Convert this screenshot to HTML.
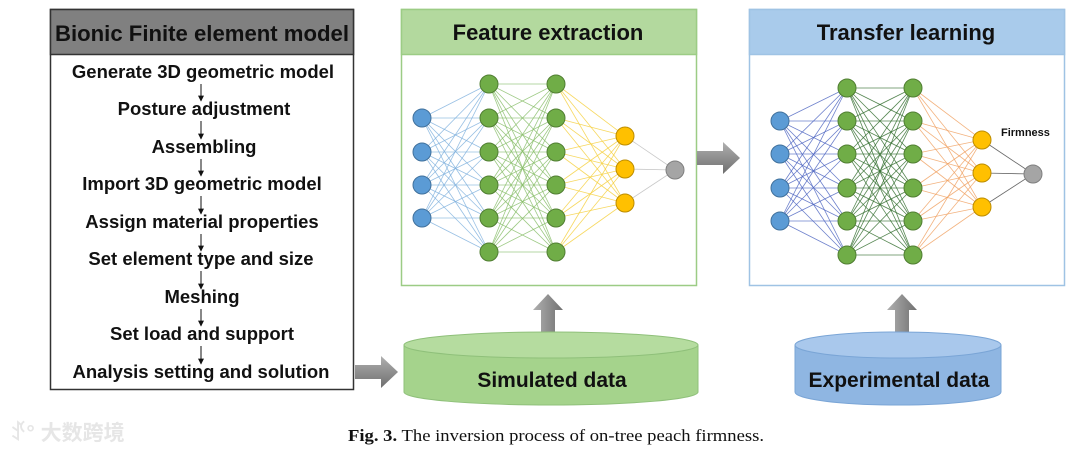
<!DOCTYPE html>
<html><head><meta charset="utf-8"><style>
html,body{margin:0;padding:0;background:#fff;width:1080px;height:450px;overflow:hidden}
svg{display:block}
text{font-family:"Liberation Sans",Arial,sans-serif;font-weight:bold;fill:#111}
</style></head><body>
<svg id="s" width="1080" height="450" viewBox="0 0 1080 450" xmlns="http://www.w3.org/2000/svg">
<defs>
<linearGradient id="ga" x1="0" y1="0" x2="0" y2="1"><stop offset="0" stop-color="#b0b0b0"/><stop offset="1" stop-color="#6e6e6e"/></linearGradient>
<linearGradient id="gh" x1="0" y1="0" x2="1" y2="0"><stop offset="0" stop-color="#b0b0b0"/><stop offset="1" stop-color="#707070"/></linearGradient>
<marker id="ah" viewBox="0 0 10 10" refX="9" refY="5" markerWidth="6" markerHeight="6" orient="auto"><path d="M0,0L10,5L0,10z" fill="#111"/></marker>
</defs>
<rect x="50.5" y="9.5" width="303" height="380" fill="#fff" stroke="#333" stroke-width="1.5"/>
<rect x="50.5" y="9.5" width="303" height="45" fill="#808080" stroke="#333" stroke-width="1.5"/>
<text x="202" y="41" font-size="22" text-anchor="middle" textLength="294" lengthAdjust="spacingAndGlyphs">Bionic Finite element model</text>
<g font-size="18.5" text-anchor="middle">
<text x="203" y="78">Generate 3D geometric model</text>
<text x="204" y="115">Posture adjustment</text>
<text x="204" y="153">Assembling</text>
<text x="202" y="190">Import 3D geometric model</text>
<text x="202" y="228">Assign material properties</text>
<text x="201" y="265">Set element type and size</text>
<text x="202" y="303">Meshing</text>
<text x="202" y="340">Set load and support</text>
<text x="201" y="378">Analysis setting and solution</text>
</g>
<g stroke="#111" stroke-width="1" marker-end="url(#ah)">
<line x1="201" y1="84" x2="201" y2="101"/><line x1="201" y1="121" x2="201" y2="139"/>
<line x1="201" y1="159" x2="201" y2="176"/><line x1="201" y1="196" x2="201" y2="214"/>
<line x1="201" y1="234" x2="201" y2="251"/><line x1="201" y1="271" x2="201" y2="289"/>
<line x1="201" y1="309" x2="201" y2="326"/><line x1="201" y1="346" x2="201" y2="364"/>
</g>
<rect x="401.5" y="9.5" width="295" height="276" fill="#fff" stroke="#9ccc85" stroke-width="1.5"/>
<rect x="401.5" y="9.5" width="295" height="45" fill="#b3d99e" stroke="#9ccc85" stroke-width="1.5"/>
<text x="548" y="40" font-size="22" text-anchor="middle">Feature extraction</text>
<rect x="749.5" y="9.5" width="315" height="276" fill="#fff" stroke="#9fc3e4" stroke-width="1.5"/>
<rect x="749.5" y="9.5" width="315" height="45" fill="#a9cbeb" stroke="#9fc3e4" stroke-width="1.5"/>
<text x="906" y="40" font-size="22" text-anchor="middle">Transfer learning</text>
<text x="1001" y="136" font-size="11">Firmness</text>
<g id="n1"></g><g id="n2"></g>
<path d="M355,365 H381 V356 L398,372 L381,388 V379 H355 Z" fill="url(#ga)"/>
<path d="M697,151 H723 V142 L740,158 L723,174 V165 H697 Z" fill="url(#ga)"/>
<path d="M541,332 V310 H533 L548,294 L563,310 H555 V332 Z" fill="url(#gh)"/>
<path d="M895,332 V310 H887 L902,294 L917,310 H909 V332 Z" fill="url(#gh)"/>
<path d="M404,345 V392 A147,13 0 0 0 698,392 V345 Z" fill="#a5d38c" stroke="#8fc07a"/>
<ellipse cx="551" cy="345" rx="147" ry="13" fill="#b5dc9f" stroke="#8fc07a"/>
<text x="552" y="387" font-size="21" text-anchor="middle">Simulated data</text>
<path d="M795,345 V392 A103,13 0 0 0 1001,392 V345 Z" fill="#8fb6e2" stroke="#7aa5d6"/>
<ellipse cx="898" cy="345" rx="103" ry="13" fill="#a9c8ec" stroke="#7aa5d6"/>
<text x="899" y="387" font-size="21" text-anchor="middle">Experimental data</text>
<text x="348" y="441" font-size="17" style="font-family:'Liberation Serif',serif" textLength="416" lengthAdjust="spacingAndGlyphs"><tspan font-weight="bold">Fig. 3.</tspan><tspan font-weight="normal" dx="4">The inversion process of on-tree peach firmness.</tspan></text>
<text x="10" y="440" font-size="21" style="fill:#e6e6e6;font-family:'Liberation Sans','Noto Sans CJK SC',sans-serif">ꀋ° 大数跨境</text>
</svg>
<script>
function net(g,xs,ys,cols,lc){
 var G=document.getElementById(g),h="";
 for(var l=0;l<xs.length-1;l++)for(var a of ys[l])for(var b of ys[l+1])
  h+='<line x1="'+xs[l]+'" y1="'+a+'" x2="'+xs[l+1]+'" y2="'+b+'" stroke="'+lc[l]+'" stroke-width="0.8" opacity="0.8"/>';
 for(var l=0;l<xs.length;l++)for(var y of ys[l])
  h+='<circle cx="'+xs[l]+'" cy="'+y+'" r="9" fill="'+cols[l][0]+'" stroke="'+cols[l][1]+'" stroke-width="1"/>';
 G.innerHTML=h;
}
var C=[["#5b9bd5","#41719c"],["#70ad47","#507e32"],["#70ad47","#507e32"],["#ffc000","#bc8c00"],["#a5a5a5","#7f7f7f"]];
net("n1",[422,489,556,625,675],[[118,152,185,218],[84,118,152,185,218,252],[84,118,152,185,218,252],[136,169,203],[170]],C,["#7eb0dd","#86bd67","#f5cf3a","#bbb"]);
net("n2",[780,847,913,982,1033],[[121,154,188,221],[88,121,154,188,221,255],[88,121,154,188,221,255],[140,173,207],[174]],C,["#4a62c0","#2f6b2a","#f0a060","#444"]);
</script>
</body></html>
